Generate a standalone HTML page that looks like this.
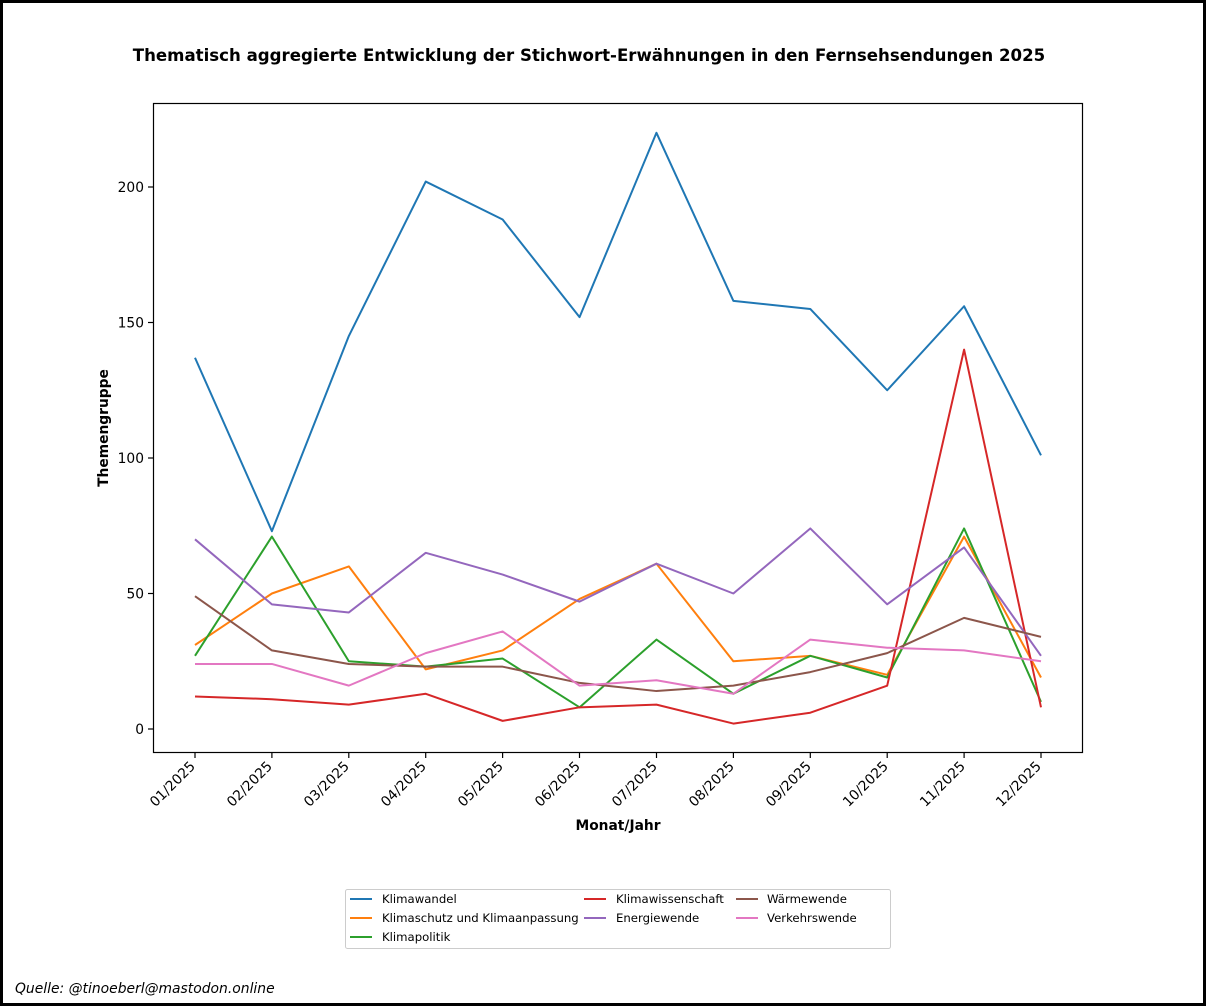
<!DOCTYPE html>
<html><head><meta charset="utf-8"><style>
html,body{margin:0;padding:0;background:#fff;}
body{width:1206px;height:1006px;overflow:hidden;}
svg{display:block;font-family:"DejaVu Sans","Liberation Sans",sans-serif;}
</style></head><body>
<svg width="1206" height="1006" viewBox="0 0 1206 1006">
<rect x="1.5" y="1.5" width="1203" height="1003" fill="#fff" stroke="#000" stroke-width="3"/>
<text x="589" y="61" text-anchor="middle" font-size="16.6" font-weight="bold">Thematisch aggregierte Entwicklung der Stichwort-Erwähnungen in den Fernsehsendungen 2025</text>
<g fill="none" stroke-width="2" stroke-linejoin="round" transform="translate(195,729) scale(76.909,-2.71)">
<polyline vector-effect="non-scaling-stroke" stroke="#1f77b4" points="0,137 1,73 2,145 3,202 4,188 5,152 6,220 7,158 8,155 9,125 10,156 11,101"/>
<polyline vector-effect="non-scaling-stroke" stroke="#ff7f0e" points="0,31 1,50 2,60 3,22 4,29 5,48 6,61 7,25 8,27 9,20 10,71 11,19"/>
<polyline vector-effect="non-scaling-stroke" stroke="#2ca02c" points="0,27 1,71 2,25 3,23 4,26 5,8 6,33 7,13 8,27 9,19 10,74 11,10"/>
<polyline vector-effect="non-scaling-stroke" stroke="#d62728" points="0,12 1,11 2,9 3,13 4,3 5,8 6,9 7,2 8,6 9,16 10,140 11,8"/>
<polyline vector-effect="non-scaling-stroke" stroke="#9467bd" points="0,70 1,46 2,43 3,65 4,57 5,47 6,61 7,50 8,74 9,46 10,67 11,27"/>
<polyline vector-effect="non-scaling-stroke" stroke="#8c564b" points="0,49 1,29 2,24 3,23 4,23 5,17 6,14 7,16 8,21 9,28 10,41 11,34"/>
<polyline vector-effect="non-scaling-stroke" stroke="#e377c2" points="0,24 1,24 2,16 3,28 4,36 5,16 6,18 7,13 8,33 9,30 10,29 11,25"/>
</g>
<rect x="153.5" y="103.5" width="929" height="649" fill="none" stroke="#000" stroke-width="1.2"/>
<g stroke="#000" stroke-width="1.2">
<line x1="148" y1="729" x2="153" y2="729"/><line x1="148" y1="593.5" x2="153" y2="593.5"/><line x1="148" y1="458" x2="153" y2="458"/><line x1="148" y1="322.5" x2="153" y2="322.5"/><line x1="148" y1="187" x2="153" y2="187"/>
</g>
<g font-size="13.8" text-anchor="end">
<text x="144" y="734">0</text><text x="144" y="598.5">50</text><text x="144" y="463">100</text><text x="144" y="327.5">150</text><text x="144" y="192">200</text>
</g>
<g stroke="#000" stroke-width="1.2">
<line x1="195" y1="753" x2="195" y2="758"/><line x1="271.9" y1="753" x2="271.9" y2="758"/><line x1="348.8" y1="753" x2="348.8" y2="758"/><line x1="425.7" y1="753" x2="425.7" y2="758"/><line x1="502.6" y1="753" x2="502.6" y2="758"/><line x1="579.5" y1="753" x2="579.5" y2="758"/><line x1="656.5" y1="753" x2="656.5" y2="758"/><line x1="733.4" y1="753" x2="733.4" y2="758"/><line x1="810.3" y1="753" x2="810.3" y2="758"/><line x1="887.2" y1="753" x2="887.2" y2="758"/><line x1="964.1" y1="753" x2="964.1" y2="758"/><line x1="1041" y1="753" x2="1041" y2="758"/>
</g>
<g font-size="13.8" text-anchor="end">
<text transform="translate(196,767) rotate(-45)">01/2025</text>
<text transform="translate(273,767) rotate(-45)">02/2025</text>
<text transform="translate(350,767) rotate(-45)">03/2025</text>
<text transform="translate(427,767) rotate(-45)">04/2025</text>
<text transform="translate(504,767) rotate(-45)">05/2025</text>
<text transform="translate(581,767) rotate(-45)">06/2025</text>
<text transform="translate(658,767) rotate(-45)">07/2025</text>
<text transform="translate(735,767) rotate(-45)">08/2025</text>
<text transform="translate(812,767) rotate(-45)">09/2025</text>
<text transform="translate(889,767) rotate(-45)">10/2025</text>
<text transform="translate(966,767) rotate(-45)">11/2025</text>
<text transform="translate(1042,767) rotate(-45)">12/2025</text>
</g>
<text x="618" y="830" text-anchor="middle" font-size="13.8" font-weight="bold">Monat/Jahr</text>
<text transform="translate(108,428) rotate(-90)" text-anchor="middle" font-size="13.8" font-weight="bold">Themengruppe</text>
<rect x="345.5" y="889.5" width="545" height="59" rx="2" fill="#fff" stroke="#ccc" stroke-width="1"/>
<g stroke-width="2">
<line x1="350" y1="899" x2="372" y2="899" stroke="#1f77b4"/>
<line x1="350" y1="918" x2="372" y2="918" stroke="#ff7f0e"/>
<line x1="350" y1="937" x2="372" y2="937" stroke="#2ca02c"/>
<line x1="584" y1="899" x2="606" y2="899" stroke="#d62728"/>
<line x1="584" y1="918" x2="606" y2="918" stroke="#9467bd"/>
<line x1="736" y1="899" x2="758" y2="899" stroke="#8c564b"/>
<line x1="736" y1="918" x2="758" y2="918" stroke="#e377c2"/>
</g>
<g font-size="11.7">
<text x="382" y="903">Klimawandel</text>
<text x="382" y="922">Klimaschutz und Klimaanpassung</text>
<text x="382" y="941">Klimapolitik</text>
<text x="616" y="903">Klimawissenschaft</text>
<text x="616" y="922">Energiewende</text>
<text x="767" y="903">Wärmewende</text>
<text x="767" y="922">Verkehrswende</text>
</g>
<text x="15" y="993" font-size="13.9" font-style="italic">Quelle: @tinoeberl@mastodon.online</text>
</svg>
</body></html>
